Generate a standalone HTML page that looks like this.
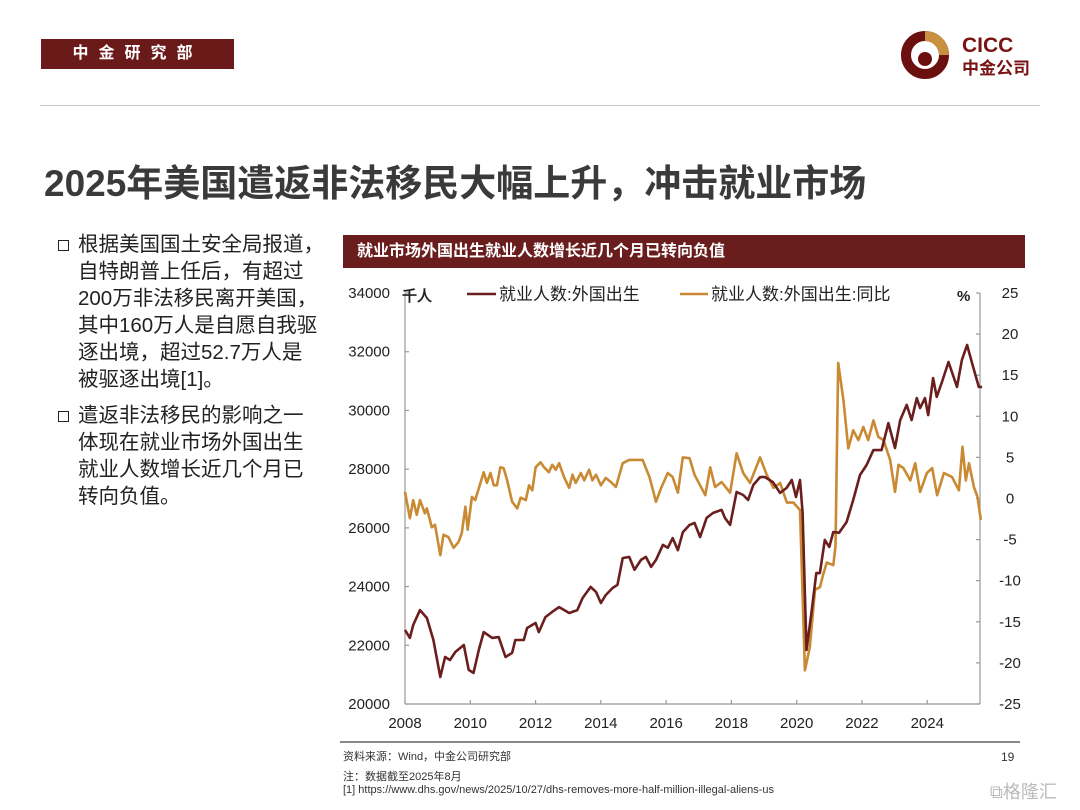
<!DOCTYPE html>
<html><head><meta charset="utf-8">
<style>
body{margin:0;width:1080px;height:810px;background:#fff;position:relative;overflow:hidden;font-family:"Liberation Sans","Noto Sans CJK SC",sans-serif;color:#222}
.abs{position:absolute}
</style></head>
<body>
<div class="abs" style="left:41px;top:39px;width:193px;height:30px;background:#6b1a1a;color:#fff;font-size:16px;font-weight:bold;line-height:30px;text-align:center;letter-spacing:10px">中金研究部</div>
<svg class="abs" style="left:898px;top:28px" width="150" height="56">
<circle cx="27" cy="27" r="19" fill="none" stroke="#6b0f0f" stroke-width="10"/>
<path d="M27 3 A24 24 0 0 1 51 27 L41 27 A14 14 0 0 0 27 13 Z" fill="#c8913f"/>
<circle cx="27" cy="31" r="7" fill="#6b0f0f"/>
<text x="64" y="24" font-size="21" font-weight="bold" fill="#7a1414" font-family="Liberation Sans">CICC</text>
<text x="64" y="46" font-size="17" font-weight="bold" fill="#7a1414" font-family="Noto Sans CJK SC">中金公司</text>
</svg>
<div class="abs" style="left:40px;top:105px;width:1000px;height:1px;background:#ccc"></div>
<div class="abs" style="left:44px;top:153px;font-size:37px;font-weight:bold;color:#3a3a3a;white-space:nowrap">2025年美国遣返非法移民大幅上升，冲击就业市场</div>
<div class="abs" style="left:58px;top:231px;font-size:20.5px;line-height:27px;color:#222;white-space:nowrap">
<div style="position:relative;padding-left:20px">
<span style="position:absolute;left:0;top:9px;width:9px;height:9px;border:1.5px solid #222"></span>根据美国国土安全局报道，<br>自特朗普上任后，有超过<br>200万非法移民离开美国，<br>其中160万人是自愿自我驱<br>逐出境，超过52.7万人是<br>被驱逐出境[1]。</div>
<div style="position:relative;padding-left:20px;margin-top:9px">
<span style="position:absolute;left:0;top:9px;width:9px;height:9px;border:1.5px solid #222"></span>遣返非法移民的影响之一<br>体现在就业市场外国出生<br>就业人数增长近几个月已<br>转向负值。</div>
</div>
<div class="abs" style="left:343px;top:235px;width:682px;height:33px;background:#6a1d1d;color:#fff;font-size:16px;font-weight:bold;line-height:33px;padding-left:14px;box-sizing:border-box">就业市场外国出生就业人数增长近几个月已转向负值</div>
<svg id="chart" class="abs" style="left:0;top:0" width="1080" height="810"></svg>
<div class="abs" style="left:340px;top:741px;width:680px;height:2px;background:#888"></div>
<div class="abs" style="left:343px;top:748px;font-size:11px;color:#333">资料来源：Wind，中金公司研究部</div>
<div class="abs" style="left:1001px;top:750px;font-size:12px;color:#333">19</div>
<div class="abs" style="left:343px;top:768px;font-size:11px;color:#333">注：数据截至2025年8月</div>
<div class="abs" style="left:343px;top:784px;font-size:11px;color:#333">[1] https://www.dhs.gov/news/2025/10/27/dhs-removes-more-half-million-illegal-aliens-us</div>
<div class="abs" style="left:990px;top:778px;font-size:18px;color:#bbb">⧉格隆汇</div>
<script>
const empYears=[2008.0,2008.15,2008.25,2008.46,2008.67,2008.87,2009.08,2009.23,2009.38,2009.54,2009.8,2009.95,2010.1,2010.26,2010.41,2010.67,2010.87,2011.08,2011.28,2011.38,2011.64,2011.74,2012.0,2012.1,2012.3,2012.5,2012.72,2013.03,2013.28,2013.44,2013.69,2013.85,2014.0,2014.15,2014.36,2014.51,2014.67,2014.87,2015.03,2015.23,2015.38,2015.54,2015.69,2015.9,2016.05,2016.2,2016.36,2016.51,2016.72,2016.87,2017.04,2017.24,2017.44,2017.7,2017.8,2017.96,2018.16,2018.36,2018.51,2018.67,2018.88,2019.03,2019.27,2019.49,2019.69,2019.85,2019.98,2020.1,2020.18,2020.3,2020.45,2020.6,2020.71,2020.86,2021.0,2021.12,2021.3,2021.53,2021.73,2021.94,2022.14,2022.35,2022.6,2022.81,2023.01,2023.17,2023.37,2023.52,2023.68,2023.78,2023.93,2024.03,2024.18,2024.29,2024.44,2024.65,2024.91,2025.06,2025.22,2025.37,2025.58,2025.68];
const empValues=[22520,22250,22690,23200,22930,22180,20920,21600,21500,21770,22010,21160,21060,21840,22450,22250,22280,21600,21740,22180,22180,22590,22760,22450,22960,23130,23300,23100,23200,23610,23990,23820,23440,23710,23950,24060,24970,25010,24570,24910,25010,24670,24910,25420,25320,25650,25240,25850,26100,26170,25690,26340,26510,26610,26340,26100,27220,27120,26950,27460,27730,27730,27560,27190,27360,27630,27050,27630,26510,21840,23100,24460,24460,25590,25350,25860,25830,26200,26950,27800,28140,28650,28650,29570,28720,29670,30190,29670,30420,30080,30420,29840,31100,30460,30930,31650,30800,31720,32230,31620,30800,30800];
const yoyYears=[2008.0,2008.15,2008.25,2008.36,2008.46,2008.61,2008.67,2008.82,2008.92,2009.08,2009.18,2009.33,2009.49,2009.64,2009.74,2009.85,2009.92,2010.05,2010.15,2010.41,2010.51,2010.62,2010.72,2010.82,2010.92,2011.02,2011.13,2011.28,2011.44,2011.54,2011.7,2011.8,2011.9,2012.0,2012.15,2012.26,2012.41,2012.51,2012.62,2012.72,2012.87,2013.03,2013.13,2013.23,2013.39,2013.49,2013.64,2013.74,2013.85,2014.0,2014.15,2014.31,2014.46,2014.67,2014.87,2015.28,2015.49,2015.69,2015.85,2016.05,2016.2,2016.36,2016.51,2016.72,2016.87,2017.04,2017.2,2017.35,2017.5,2017.7,2017.96,2018.16,2018.36,2018.57,2018.88,2019.08,2019.29,2019.49,2019.7,2019.9,2020.1,2020.25,2020.4,2020.56,2020.71,2020.81,2020.92,2021.12,2021.19,2021.27,2021.43,2021.58,2021.73,2021.89,2022.04,2022.19,2022.35,2022.5,2022.66,2022.86,2023.01,2023.12,2023.27,2023.48,2023.63,2023.78,2023.99,2024.15,2024.3,2024.51,2024.76,2024.97,2025.08,2025.18,2025.28,2025.43,2025.54,2025.64];
const yoyValues=[0.8,-2.4,-0.2,-2.0,-0.2,-1.8,-1.2,-3.5,-3.2,-6.9,-4.4,-4.7,-6.0,-5.3,-4.2,-1.0,-3.8,0.2,-0.2,3.2,1.9,3.1,1.6,1.6,3.8,3.7,2.2,-0.4,-1.2,0.1,-0.2,1.6,1.0,3.8,4.4,3.8,3.2,4.1,3.5,4.3,2.6,1.3,2.9,1.9,3.1,2.2,3.5,2.2,2.9,1.6,2.5,2.0,1.4,4.3,4.7,4.7,2.6,-0.4,1.3,3.1,2.6,0.7,5.0,4.9,2.9,1.6,0.4,3.8,1.4,2.0,0.7,5.5,3.1,1.9,5.0,2.9,1.3,1.9,-0.5,-0.5,-1.4,-20.9,-18.1,-11.1,-10.8,-9.3,-7.8,-8.1,-5.8,16.5,12.0,6.1,8.3,7.1,8.7,7.1,9.5,7.5,7.1,4.7,0.8,4.1,3.7,2.2,4.3,0.8,3.1,3.7,0.4,3.1,2.6,1.0,6.3,2.2,4.3,1.4,0.2,-2.6];
const xTicks=[2008,2010,2012,2014,2016,2018,2020,2022,2024];
const leftTicks=[20000,22000,24000,26000,28000,30000,32000,34000];
const rightTicks=[-25,-20,-15,-10,-5,0,5,10,15,20,25];

const L=405,R=980,T=293,B=704;
const xS=y=>L+(y-2008)*(796.7-405)/12;
const yL=v=>B-(v-20000)/14000*(B-T);
const yR=v=>B-(v+25)/50*(B-T);
const NS='http://www.w3.org/2000/svg';
const svg=document.getElementById('chart');
function mk(tag,attrs,parent){const e=document.createElementNS(NS,tag);for(const k in attrs)e.setAttribute(k,attrs[k]);(parent||svg).appendChild(e);return e;}
const axStyle={stroke:'#999','stroke-width':1.2};
let e;
e=mk('line',Object.assign({x1:L,y1:T,x2:L,y2:B},axStyle));


e=mk('line',Object.assign({x1:R,y1:T,x2:R,y2:B},axStyle));


e=mk('line',Object.assign({x1:L,y1:B,x2:R,y2:B},axStyle));


const lab={fill:'#222','font-size':15,'font-family':'Liberation Sans, sans-serif'};
leftTicks.forEach(v=>{
  mk('line',Object.assign({x1:L,x2:L+4,y1:yL(v),y2:yL(v)},axStyle));
  e=mk('text',Object.assign({x:390,y:yL(v)+5,'text-anchor':'end'},lab));e.textContent=v;
  
  
});
rightTicks.forEach(v=>{
  mk('line',Object.assign({x1:R-4,x2:R,y1:yR(v),y2:yR(v)},axStyle));
  e=mk('text',Object.assign({x:1010,y:yR(v)+5,'text-anchor':'middle'},lab));e.textContent=v;
  
  
});
xTicks.forEach(v=>{
  mk('line',Object.assign({x1:xS(v),x2:xS(v),y1:B,y2:B-4},axStyle));
  e=mk('text',Object.assign({x:xS(v),y:728,'text-anchor':'middle'},lab));e.textContent=v;
  
  
});
function line(xs,vs,sc,color,name){
  const d=xs.map((x,i)=>(i?'L':'M')+xS(x).toFixed(1)+' '+sc(vs[i]).toFixed(1)).join(' ');
  const p=mk('path',{d:d,fill:'none',stroke:color,'stroke-width':2.6,'stroke-linejoin':'round'});
  
  
}
line(yoyYears,yoyValues,yR,'#c98a33','series-yoy');
line(empYears,empValues,yL,'#6b1e1e','series-employment');
e=mk('text',Object.assign({x:402,y:301},lab,{'font-weight':'bold'}));e.textContent='千人';


e=mk('text',Object.assign({x:957,y:301},lab,{'font-weight':'bold'}));e.textContent='%';


const lg1=mk('g',{});


mk('line',{x1:467,x2:496,y1:294,y2:294,stroke:'#6b1e1e','stroke-width':2.6},lg1);
e=mk('text',Object.assign({x:499,y:300},lab,{'font-size':17}),lg1);e.textContent='就业人数:外国出生';
const lg2=mk('g',{});


mk('line',{x1:680,x2:708,y1:294,y2:294,stroke:'#c98a33','stroke-width':2.6},lg2);
e=mk('text',Object.assign({x:711,y:300},lab,{'font-size':17}),lg2);e.textContent='就业人数:外国出生:同比';
</script>
</body></html>
